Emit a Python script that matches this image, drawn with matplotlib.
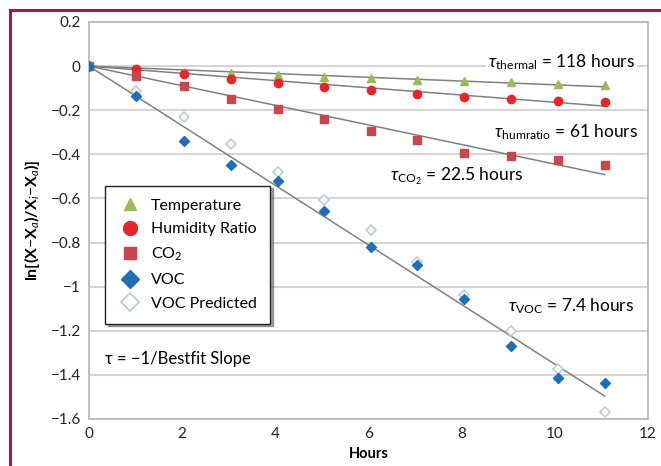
import numpy as np
import matplotlib.pyplot as plt
from matplotlib.lines import Line2D

plt.rcParams['font.family'] = ['Lato', 'DejaVu Sans']
plt.rcParams['mathtext.fontset'] = 'custom'
plt.rcParams['mathtext.rm'] = 'Lato'
plt.rcParams['mathtext.it'] = 'Lato:italic'
plt.rcParams['mathtext.bf'] = 'Lato:bold'

# data
hours = [0, 1.02, 2.03, 3.05, 4.05, 5.05, 6.05, 7.05, 8.06, 9.06, 10.06, 11.07]
temperature = [0, -0.012, -0.028, -0.033, -0.041, -0.048, -0.055, -0.062, -0.067, -0.073, -0.079, -0.086]
humidity = [0, -0.015, -0.036, -0.058, -0.075, -0.093, -0.108, -0.125, -0.138, -0.150, -0.157, -0.162]
co2 = [0, -0.045, -0.091, -0.150, -0.194, -0.242, -0.294, -0.333, -0.392, -0.408, -0.424, -0.447]
voc = [0, -0.135, -0.340, -0.447, -0.523, -0.657, -0.818, -0.900, -1.056, -1.268, -1.416, -1.439]
voc_pred = [0, -0.112, -0.233, -0.355, -0.479, -0.609, -0.742, -0.889, -1.036, -1.200, -1.374, -1.567]

# time constants from the annotations (hours)
taus = [118, 61, 22.5, 7.4]

fig = plt.figure(figsize=(6.61, 4.66), dpi=100)
ax = fig.add_axes([0.1346, 0.1009, 0.8457, 0.8519])

# best fit lines
t_fit = np.array([0, hours[-1]])
for tau in taus:
    ax.plot(t_fit, -t_fit / tau, color='#808080', lw=1.1, zorder=2)

ax.plot(hours, temperature, '^', color='#9bbb59', ms=5.5, ls='none', zorder=3)
ax.plot(hours, humidity, 'o', color='#e8262a', ms=6, ls='none', zorder=3)
ax.plot(hours, co2, 's', color='#c9474b', ms=5.5, ls='none', zorder=3)
ax.plot(hours, voc_pred, 'D', mfc='white', mec='#b3cbd8', mew=1.1, ms=5, ls='none', zorder=3)
ax.plot(hours, voc, 'D', color='#1f6eb9', ms=5, ls='none', zorder=4)

ax.set_xlim(0, 12)
ax.set_ylim(-1.6, 0.2)
ax.set_xticks(range(0, 13, 2))
ax.set_yticks(np.arange(-1.6, 0.21, 0.2))
ax.set_yticklabels(['\u22121.6', '\u22121.4', '\u22121.2', '\u22121', '\u22120.8', '\u22120.6',
                    '\u22120.4', '\u22120.2', '0', '0.2'])
ax.tick_params(length=0, labelsize=11, colors='#222222', pad=6)
ax.grid(axis='y', color='#d5d5d5', lw=1.5)
ax.set_axisbelow(True)
for s in ax.spines.values():
    s.set_color('#b5b5b5')
    s.set_linewidth(1.2)

ax.set_xlabel('Hours', fontsize=10.5, fontweight='bold', labelpad=4)
ax.set_ylabel(r'ln[(X$-$X$_{\mathit{a}}$)/X$_{\mathit{i}}$$-$X$_{\mathit{a}}$)]', fontsize=11.5,
              fontweight='bold', labelpad=6)

box = dict(facecolor='white', edgecolor='none', pad=1.5)
ax.text(11.72, 0.02, r'$\tau_{\mathrm{thermal}}$ = 118 hours', ha='right', va='center',
        fontsize=12.5, bbox=box)
ax.text(11.78, -0.30, r'$\tau_{\mathrm{humratio}}$ = 61 hours', ha='right', va='center',
        fontsize=12.5, bbox=box)
ax.text(6.46, -0.50, r'$\tau_{\mathrm{CO_2}}$ = 22.5 hours', ha='left', va='center',
        fontsize=12.5, bbox=box)
ax.text(8.99, -1.09, r'$\tau_{\mathrm{VOC}}$ = 7.4 hours', ha='left', va='center',
        fontsize=12.5, bbox=box)
ax.text(0.34, -1.33, '\u03c4 = \u22121/Bestfit Slope', ha='left', va='center', fontsize=12)

handles = [
    Line2D([], [], marker='^', color='#9bbb59', ls='none', ms=9),
    Line2D([], [], marker='o', color='#e8262a', ls='none', ms=10),
    Line2D([], [], marker='s', color='#c9474b', ls='none', ms=8),
    Line2D([], [], marker='D', color='#1f6eb9', ls='none', ms=9),
    Line2D([], [], marker='D', mfc='white', mec='#b3cbd8', mew=1.2, ls='none', ms=9),
]
labels = ['Temperature', 'Humidity Ratio', 'CO$_2$', 'VOC', 'VOC Predicted']
leg = ax.legend(handles, labels, loc='lower left', bbox_to_anchor=(0.014, 0.22),
                fontsize=11.5, frameon=True, fancybox=False, shadow=True,
                edgecolor='#222222', handletextpad=0.6, labelspacing=0.6,
                borderpad=0.8, handlelength=1.5)
leg.get_frame().set_linewidth(1.0)

# magazine-style border
fig.add_artist(Line2D([0.0145, 0.0145], [0, 0.978], color='#a3173f', lw=2.2))
fig.add_artist(Line2D([0.0145, 1.0], [0.978, 0.978], color='#a3173f', lw=2.2))

fig.savefig('out.png', dpi=100)
